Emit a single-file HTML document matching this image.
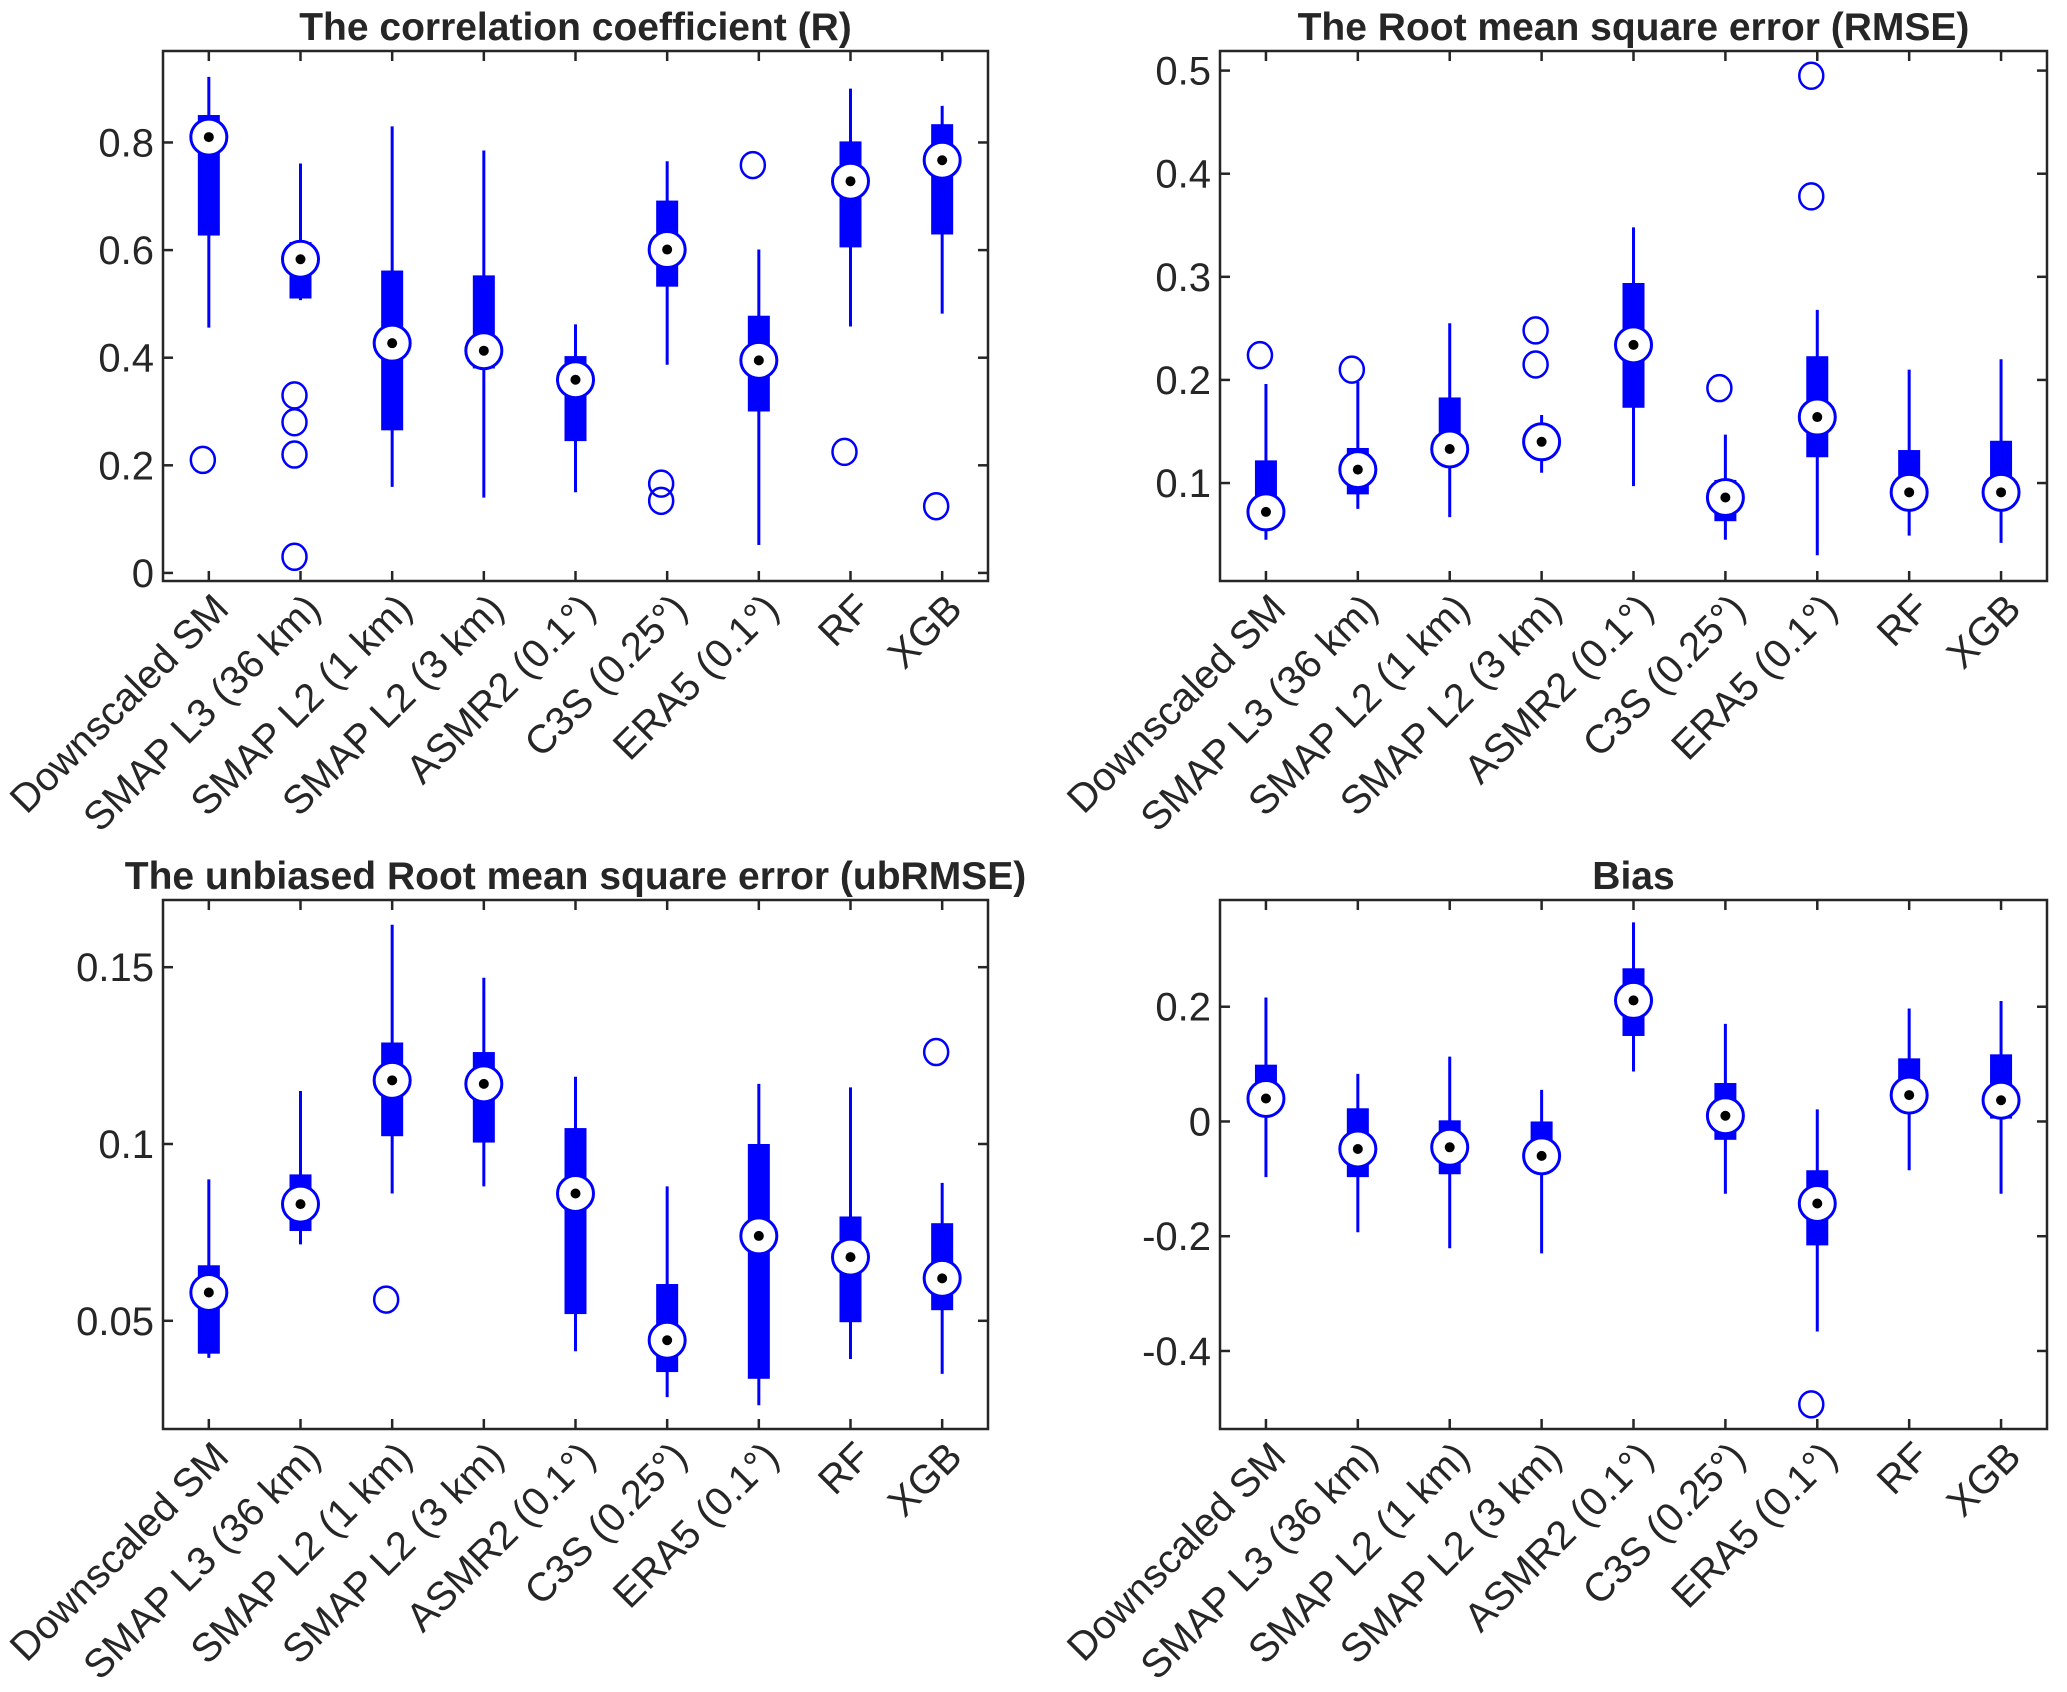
<!DOCTYPE html>
<html><head><meta charset="utf-8"><style>
html,body{margin:0;padding:0;background:#fff}
svg{display:block}
text{font-family:"Liberation Sans",Arial,sans-serif;fill:#262626}
</style></head><body>
<svg id="fig" width="2067" height="1692" viewBox="0 0 2067 1692" xmlns="http://www.w3.org/2000/svg"></svg>
<script>
const categories = ["Downscaled SM","SMAP L3 (36 km)","SMAP L2 (1 km)","SMAP L2 (3 km)","ASMR2 (0.1°)","C3S (0.25°)","ERA5 (0.1°)","RF","XGB"];

// R
const rLow  = [0.456,0.507,0.16,0.14,0.15,0.387,0.052,0.458,0.482];
const rQ1   = [0.627,0.51,0.265,0.38,0.245,0.532,0.30,0.605,0.629];
const rMed  = [0.81,0.583,0.427,0.413,0.359,0.601,0.395,0.728,0.767];
const rQ3   = [0.851,0.615,0.562,0.553,0.403,0.692,0.478,0.802,0.834];
const rHigh = [0.922,0.761,0.83,0.785,0.462,0.765,0.601,0.90,0.868];
const rOut  = [[0.21],[0.33,0.28,0.22,0.03],[],[],[],[0.166,0.134],[0.758],[0.225],[0.124]];
const rTicks = [0,0.2,0.4,0.6,0.8];
const rTickLabels = ["0","0.2","0.4","0.6","0.8"];

// RMSE
const eLow  = [0.045,0.075,0.067,0.11,0.097,0.045,0.03,0.049,0.042];
const eQ1   = [0.068,0.089,0.125,0.128,0.173,0.063,0.125,0.077,0.077];
const eMed  = [0.072,0.113,0.133,0.14,0.234,0.086,0.164,0.091,0.091];
const eQ3   = [0.122,0.134,0.183,0.15,0.294,0.103,0.223,0.132,0.141];
const eHigh = [0.196,0.198,0.255,0.166,0.348,0.147,0.268,0.21,0.22];
const eOut  = [[0.224],[0.21],[],[0.248,0.215],[],[0.192],[0.495,0.378],[],[]];
const eTicks = [0.1,0.2,0.3,0.4,0.5];
const eTickLabels = ["0.1","0.2","0.3","0.4","0.5"];

// ubRMSE
const uLow  = [0.0395,0.0716,0.086,0.088,0.0414,0.0284,0.0261,0.0392,0.035];
const uQ1   = [0.0407,0.0754,0.1022,0.1004,0.0519,0.0355,0.0336,0.0496,0.053];
const uMed  = [0.058,0.083,0.118,0.117,0.086,0.0445,0.074,0.068,0.062];
const uQ3   = [0.0657,0.0914,0.1287,0.126,0.1045,0.0604,0.100,0.0795,0.0776];
const uHigh = [0.09,0.115,0.162,0.147,0.119,0.088,0.117,0.116,0.089];
const uOut  = [[],[],[0.056],[],[],[],[],[],[0.126]];
const uTicks = [0.05,0.1,0.15];
const uTickLabels = ["0.05","0.1","0.15"];

// Bias
const bLow  = [-0.097,-0.193,-0.221,-0.23,0.087,-0.126,-0.366,-0.085,-0.126];
const bQ1   = [0.025,-0.097,-0.092,-0.087,0.149,-0.032,-0.216,0.02,0.005];
const bMed  = [0.04,-0.048,-0.045,-0.06,0.211,0.01,-0.143,0.046,0.037];
const bQ3   = [0.099,0.023,0.002,0.0,0.267,0.067,-0.085,0.11,0.117];
const bHigh = [0.216,0.083,0.113,0.055,0.347,0.17,0.021,0.197,0.21];
const bOut  = [[],[],[],[],[],[],[-0.493],[],[]];
const bTicks = [-0.4,-0.2,0,0.2];
const bTickLabels = ["-0.4","-0.2","0","0.2"];

const NS = "http://www.w3.org/2000/svg";
const svg = document.getElementById("fig");
function mk(tag, attrs, parent){
  const e = document.createElementNS(NS, tag);
  for (const k in attrs) e.setAttribute(k, attrs[k]);
  (parent||svg).appendChild(e);
  return e;
}

function panel(cfg){
  const g = mk("g", {});
  
  
  const {x0,x1,y0,y1,ymin,ymax} = cfg;
  const n = categories.length;
  const xs = i => x0 + (i + 0.5) * (x1 - x0) / n;
  const ys = v => y1 - (v - ymin) / (ymax - ymin) * (y1 - y0);

  const t = mk("text", {x:(x0+x1)/2, y:y0-11, "text-anchor":"middle", "font-size":39, "font-weight":"bold", fill:"#000"}, g);
  t.textContent = cfg.title;
  
  

  cfg.ticks.forEach((v,i)=>{
    const y = ys(v);
    mk("line",{x1:x0,x2:x0+10,y1:y,y2:y,stroke:"#262626","stroke-width":2.5},g);
    mk("line",{x1:x1,x2:x1-10,y1:y,y2:y,stroke:"#262626","stroke-width":2.5},g);
    const tl = mk("text",{x:x0-9,y:y+14,"text-anchor":"end","font-size":40},g);
    tl.textContent = cfg.tickLabels[i];
    
    
  });

  categories.forEach((c,i)=>{
    const x = xs(i);
    mk("line",{x1:x,x2:x,y1:y1,y2:y1-10,stroke:"#262626","stroke-width":2.5},g);
    mk("line",{x1:x,x2:x,y1:y0,y2:y0+10,stroke:"#262626","stroke-width":2.5},g);
    const lx = x + 22, ly = y1 + 30;
    const tl = mk("text",{x:lx,y:ly,"text-anchor":"end","font-size":40,transform:`rotate(-45 ${lx} ${ly})`},g);
    tl.textContent = c;
    
    
  });

  categories.forEach((c,i)=>{
    const x = xs(i);
    const bg = mk("g",{},g);
    
    
    mk("line",{x1:x,x2:x,y1:ys(cfg.high[i]),y2:ys(cfg.low[i]),stroke:"#0000ff","stroke-width":3},bg);
    const yq3 = ys(cfg.q3[i]), yq1 = ys(cfg.q1[i]);
    mk("rect",{x:x-11,y:yq3,width:22,height:Math.max(1,yq1-yq3),fill:"#0000ff"},bg);
    const ym = ys(cfg.med[i]);
    mk("circle",{cx:x,cy:ym,r:18,fill:"#fff",stroke:"#0000ff","stroke-width":3},bg);
    mk("circle",{cx:x,cy:ym,r:5,fill:"#000"},bg);
    cfg.out[i].forEach(v=>{
      const o = mk("ellipse",{cx:x-6,cy:ys(v),rx:12,ry:13,fill:"none",stroke:"#0000ff","stroke-width":2.5},bg);
      
      
    });
  });

  const fr = mk("rect",{x:x0,y:y0,width:x1-x0,height:y1-y0,fill:"none",stroke:"#262626","stroke-width":2.5},g);
  
  
}

panel({name:"panel-r", title:"The correlation coefficient (R)", x0:163,x1:988,y0:51,y1:581, ymin:-0.015,ymax:0.97,
  low:rLow,q1:rQ1,med:rMed,q3:rQ3,high:rHigh,out:rOut,ticks:rTicks,tickLabels:rTickLabels});
panel({name:"panel-rmse", title:"The Root mean square error (RMSE)", x0:1220,x1:2047,y0:51,y1:581, ymin:0.005,ymax:0.519,
  low:eLow,q1:eQ1,med:eMed,q3:eQ3,high:eHigh,out:eOut,ticks:eTicks,tickLabels:eTickLabels});
panel({name:"panel-ubrmse", title:"The unbiased Root mean square error (ubRMSE)", x0:163,x1:988,y0:900,y1:1429, ymin:0.0194,ymax:0.169,
  low:uLow,q1:uQ1,med:uMed,q3:uQ3,high:uHigh,out:uOut,ticks:uTicks,tickLabels:uTickLabels});
panel({name:"panel-bias", title:"Bias", x0:1220,x1:2047,y0:900,y1:1429, ymin:-0.536,ymax:0.386,
  low:bLow,q1:bQ1,med:bMed,q3:bQ3,high:bHigh,out:bOut,ticks:bTicks,tickLabels:bTickLabels});
</script>
</body></html>
